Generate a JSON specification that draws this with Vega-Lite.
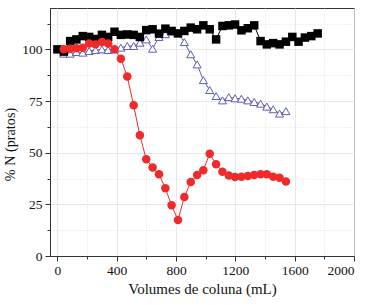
{
  "$schema": "https://vega.github.io/schema/vega-lite/v6.json",
  "autosize": "none",
  "width": 304,
  "height": 248,
  "padding": {"left": 50, "top": 8, "right": 17, "bottom": 49},
  "background": "white",
  "config": {
    "view": {"stroke": "#333333", "strokeWidth": 1},
    "font": "Liberation Serif",
    "axis": {"labelFont": "Liberation Serif", "titleFont": "Liberation Serif", "labelColor": "#111", "titleColor": "#111", "titleFontWeight": "normal"}
  },
  "datasets": {
    "pts": [
      {"s": "A", "x": 0, "y": 100}, {"s": "A", "x": 43, "y": 98.9}, {"s": "A", "x": 86, "y": 104}, {"s": "A", "x": 128, "y": 104.8},
      {"s": "A", "x": 171, "y": 106.4}, {"s": "A", "x": 214, "y": 106}, {"s": "A", "x": 257, "y": 105}, {"s": "A", "x": 300, "y": 107},
      {"s": "A", "x": 342, "y": 106}, {"s": "A", "x": 385, "y": 108.5}, {"s": "A", "x": 428, "y": 107}, {"s": "A", "x": 471, "y": 107.2},
      {"s": "A", "x": 514, "y": 107}, {"s": "A", "x": 556, "y": 106}, {"s": "A", "x": 599, "y": 109.3}, {"s": "A", "x": 642, "y": 109.7},
      {"s": "A", "x": 685, "y": 107.6}, {"s": "A", "x": 728, "y": 110}, {"s": "A", "x": 770, "y": 108.9}, {"s": "A", "x": 813, "y": 107.7},
      {"s": "A", "x": 856, "y": 108.9}, {"s": "A", "x": 899, "y": 110.5}, {"s": "A", "x": 942, "y": 109.7}, {"s": "A", "x": 984, "y": 111.6},
      {"s": "A", "x": 1027, "y": 109.7}, {"s": "A", "x": 1070, "y": 104.8}, {"s": "A", "x": 1113, "y": 111.3}, {"s": "A", "x": 1156, "y": 111.6},
      {"s": "A", "x": 1198, "y": 112}, {"s": "A", "x": 1241, "y": 109.2}, {"s": "A", "x": 1284, "y": 110.2}, {"s": "A", "x": 1327, "y": 111.6},
      {"s": "A", "x": 1370, "y": 104}, {"s": "A", "x": 1412, "y": 102.4}, {"s": "A", "x": 1455, "y": 103}, {"s": "A", "x": 1498, "y": 102.4},
      {"s": "A", "x": 1541, "y": 103.7}, {"s": "A", "x": 1584, "y": 106}, {"s": "A", "x": 1626, "y": 103.7}, {"s": "A", "x": 1669, "y": 105.7},
      {"s": "A", "x": 1712, "y": 106.4}, {"s": "A", "x": 1755, "y": 107.7},
      {"s": "B", "x": 43, "y": 97.9}, {"s": "B", "x": 86, "y": 97.9}, {"s": "B", "x": 128, "y": 98.7}, {"s": "B", "x": 171, "y": 98.4},
      {"s": "B", "x": 214, "y": 99.2}, {"s": "B", "x": 257, "y": 99.7}, {"s": "B", "x": 300, "y": 100}, {"s": "B", "x": 342, "y": 99.7},
      {"s": "B", "x": 385, "y": 100}, {"s": "B", "x": 428, "y": 100.8}, {"s": "B", "x": 471, "y": 101.6}, {"s": "B", "x": 514, "y": 101.6},
      {"s": "B", "x": 556, "y": 103.2}, {"s": "B", "x": 599, "y": 104.8}, {"s": "B", "x": 642, "y": 100.3}, {"s": "B", "x": 685, "y": 106},
      {"s": "B", "x": 728, "y": 107.3}, {"s": "B", "x": 770, "y": 108.6}, {"s": "B", "x": 813, "y": 108.1}, {"s": "B", "x": 856, "y": 103.5},
      {"s": "B", "x": 899, "y": 97.6}, {"s": "B", "x": 942, "y": 92.7}, {"s": "B", "x": 984, "y": 85.1}, {"s": "B", "x": 1027, "y": 80.3},
      {"s": "B", "x": 1070, "y": 77.4}, {"s": "B", "x": 1113, "y": 75.3}, {"s": "B", "x": 1156, "y": 76.9}, {"s": "B", "x": 1198, "y": 76.3},
      {"s": "B", "x": 1241, "y": 76.1}, {"s": "B", "x": 1284, "y": 75.3}, {"s": "B", "x": 1327, "y": 74.5}, {"s": "B", "x": 1370, "y": 73.7},
      {"s": "B", "x": 1412, "y": 72.3}, {"s": "B", "x": 1455, "y": 71}, {"s": "B", "x": 1498, "y": 68.9}, {"s": "B", "x": 1541, "y": 70.1},
      {"s": "C", "x": 43, "y": 100}, {"s": "C", "x": 86, "y": 100.3}, {"s": "C", "x": 128, "y": 100.5}, {"s": "C", "x": 171, "y": 100.8},
      {"s": "C", "x": 214, "y": 102.8}, {"s": "C", "x": 257, "y": 102.4}, {"s": "C", "x": 300, "y": 103.5}, {"s": "C", "x": 342, "y": 102.8},
      {"s": "C", "x": 385, "y": 100}, {"s": "C", "x": 428, "y": 95.5}, {"s": "C", "x": 471, "y": 86.8}, {"s": "C", "x": 514, "y": 72.9},
      {"s": "C", "x": 556, "y": 58.4}, {"s": "C", "x": 599, "y": 46.8}, {"s": "C", "x": 642, "y": 42.8}, {"s": "C", "x": 685, "y": 39.5},
      {"s": "C", "x": 728, "y": 32.8}, {"s": "C", "x": 770, "y": 24.5}, {"s": "C", "x": 813, "y": 17.4}, {"s": "C", "x": 856, "y": 28.5},
      {"s": "C", "x": 899, "y": 35.8}, {"s": "C", "x": 942, "y": 39.2}, {"s": "C", "x": 984, "y": 41.5}, {"s": "C", "x": 1027, "y": 49.5},
      {"s": "C", "x": 1070, "y": 44.4}, {"s": "C", "x": 1113, "y": 40.8}, {"s": "C", "x": 1156, "y": 39}, {"s": "C", "x": 1198, "y": 38.2},
      {"s": "C", "x": 1241, "y": 38.4}, {"s": "C", "x": 1284, "y": 38.7}, {"s": "C", "x": 1327, "y": 39.2}, {"s": "C", "x": 1370, "y": 39.5},
      {"s": "C", "x": 1412, "y": 39.5}, {"s": "C", "x": 1455, "y": 38.4}, {"s": "C", "x": 1498, "y": 37.9}, {"s": "C", "x": 1541, "y": 36}
    ]
  },
  "data": {"name": "pts"},
  "resolve": {"axis": {"x": "independent", "y": "independent"}},
  "layer": [
    {
      "mark": {"type": "point", "opacity": 0},
      "encoding": {
        "x": {"field": "x", "type": "quantitative", "scale": {"domain": [-50, 2000], "nice": false, "zero": false},
          "axis": {"orient": "bottom", "values": [200, 600, 1000, 1400, 1800], "labels": false, "title": null, "domain": false,
            "ticks": true, "tickSize": 3, "tickColor": "#333", "grid": true, "gridColor": "#d8d8d8", "gridDash": [1, 2], "gridWidth": 0.8}},
        "y": {"field": "y", "type": "quantitative", "scale": {"domain": [0, 120], "nice": false, "zero": false},
          "axis": {"orient": "left", "values": [12.5, 37.5, 62.5, 87.5, 112.5], "labels": false, "title": null, "domain": false,
            "ticks": true, "tickSize": 3, "tickColor": "#333", "grid": true, "gridColor": "#d8d8d8", "gridDash": [1, 2], "gridWidth": 0.8}}
      }
    },
    {
      "mark": {"type": "line", "strokeWidth": 1},
      "encoding": {
        "x": {"field": "x", "type": "quantitative",
          "axis": {"orient": "bottom", "values": [0, 400, 800, 1200, 1600, 2000], "format": "d", "title": "Volumes de coluna (mL)",
            "labelFont": "Liberation Serif", "titleFont": "Liberation Serif",
            "labelFontSize": 13.5, "titleFontSize": 15, "labelPadding": 2, "titlePadding": 5, "tickSize": 5, "tickColor": "#333",
            "domainColor": "#333", "grid": true, "gridColor": "#e2e2e2", "gridWidth": 0.8}},
        "y": {"field": "y", "type": "quantitative",
          "axis": {"orient": "left", "values": [0, 25, 50, 75, 100], "format": "d", "title": "% N (pratos)",
            "labelFont": "Liberation Serif", "titleFont": "Liberation Serif",
            "labelFontSize": 13.5, "titleFontSize": 14.2, "labelPadding": 3, "titlePadding": 4, "titleY": 136, "tickSize": 5, "tickColor": "#333",
            "domainColor": "#333", "grid": true, "gridColor": "#e2e2e2", "gridWidth": 0.8}},
        "color": {"field": "s", "type": "nominal", "scale": {"domain": ["A", "B", "C"], "range": ["#000000", "#5a60b4", "#f02a2a"]}, "legend": null},
        "detail": {"field": "s"}
      }
    },
    {
      "transform": [{"filter": "datum.s === 'B'"}],
      "mark": {"type": "point", "shape": "triangle-up", "size": 65, "filled": true, "fill": "white", "stroke": "#5a60b4", "strokeWidth": 1, "opacity": 1},
      "encoding": {
        "x": {"field": "x", "type": "quantitative", "axis": null},
        "y": {"field": "y", "type": "quantitative", "axis": null}
      }
    },
    {
      "transform": [{"filter": "datum.s === 'A'"}],
      "mark": {"type": "point", "shape": "square", "size": 72, "filled": true, "color": "#000000", "opacity": 1},
      "encoding": {
        "x": {"field": "x", "type": "quantitative", "axis": null},
        "y": {"field": "y", "type": "quantitative", "axis": null}
      }
    },
    {
      "transform": [{"filter": "datum.s === 'C'"}],
      "mark": {"type": "point", "shape": "circle", "size": 72, "filled": true, "color": "#f02a2a", "opacity": 1},
      "encoding": {
        "x": {"field": "x", "type": "quantitative", "axis": null},
        "y": {"field": "y", "type": "quantitative", "axis": null}
      }
    }
  ]
}
